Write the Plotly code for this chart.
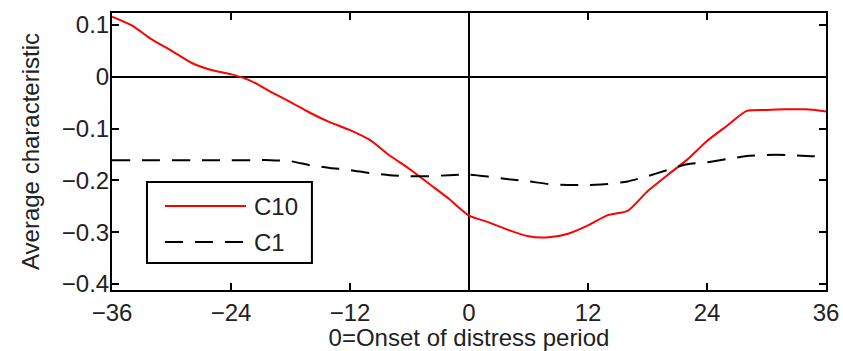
import plotly.graph_objects as go

# Months relative to the onset of the distress period
months = [-36, -34, -32, -30, -28, -26, -24, -22, -20, -18, -16, -14, -12,
          -10, -8, -6, -4, -2, 0, 2, 4, 6, 8, 10, 12, 14, 16, 18, 20, 22,
          24, 26, 28, 30, 32, 34, 36]

# Average characteristic, top decile portfolio
c10 = [0.116, 0.099, 0.072, 0.050, 0.027, 0.013, 0.005, -0.008, -0.029,
       -0.049, -0.070, -0.088, -0.103, -0.122, -0.152, -0.178, -0.207,
       -0.236, -0.268, -0.281, -0.296, -0.308, -0.310, -0.303, -0.287,
       -0.267, -0.259, -0.221, -0.190, -0.160, -0.124, -0.095, -0.066,
       -0.064, -0.063, -0.063, -0.067]

# Average characteristic, bottom decile portfolio
c1 = [-0.161, -0.161, -0.161, -0.161, -0.161, -0.161, -0.161, -0.161,
      -0.161, -0.163, -0.171, -0.176, -0.180, -0.186, -0.190, -0.192,
      -0.192, -0.190, -0.189, -0.193, -0.198, -0.202, -0.207, -0.209,
      -0.209, -0.207, -0.202, -0.192, -0.180, -0.169, -0.165, -0.159,
      -0.153, -0.151, -0.151, -0.153, -0.154]

x_ticks = [-36, -24, -12, 0, 12, 24, 36]
y_ticks = [-0.4, -0.3, -0.2, -0.1, 0, 0.1]

series_names = ["C10", "C1"]
series_colors = ["#ff0000", "#000000"]
series_dash = ["solid", "18px,12px"]

FONT = "Liberation Sans, Arial, sans-serif"
TXT = "#222"
FS = 24

fig = go.Figure()
for name, vals, col, dash in zip(series_names, [c10, c1], series_colors, series_dash):
    fig.add_trace(go.Scatter(x=months, y=vals, mode="lines", name=name,
                             line=dict(color=col, width=2, dash=dash, shape="spline",
                                       smoothing=0.6),
                             showlegend=False))

axis_common = dict(showline=True, linecolor="black", linewidth=2, mirror="allticks",
                   ticks="inside", ticklen=7, tickwidth=2, tickcolor="black",
                   showgrid=False, zeroline=True, zerolinecolor="black",
                   zerolinewidth=2, automargin=False,
                   tickfont=dict(family=FONT, size=FS, color=TXT))

fig.update_xaxes(range=[-36, 36], tickvals=x_ticks, **axis_common,
                 title=dict(text="0=Onset of distress period",
                            font=dict(family=FONT, size=FS, color=TXT),
                            standoff=11))
fig.update_yaxes(range=[-0.4116, 0.123], tickvals=y_ticks, **axis_common,
                 ticklabelstandoff=-4,
                 title=dict(text="Average characteristic",
                            font=dict(family=FONT, size=FS, color=TXT),
                            standoff=15))

# Legend box drawn in paper coordinates
lx0, lx1, ly0, ly1 = 0.049, 0.280, 0.0975, 0.39
fig.add_shape(type="rect", xref="paper", yref="paper", x0=lx0, x1=lx1, y0=ly0, y1=ly1,
              line=dict(color="black", width=2), fillcolor="white", layer="above")
for name, col, dash, yy in zip(series_names, series_colors, series_dash, [0.303, 0.173]):
    fig.add_shape(type="line", xref="paper", yref="paper", x0=0.0742, x1=0.1877,
                  y0=yy, y1=yy, line=dict(color=col, width=2, dash=dash), layer="above")
    fig.add_annotation(xref="paper", yref="paper", x=0.196, y=yy, text=name,
                       showarrow=False, xanchor="left", yanchor="middle",
                       font=dict(family=FONT, size=FS, color=TXT))

fig.update_layout(width=843, height=351, margin=dict(l=112, r=17, t=13, b=61),
                  plot_bgcolor="white", paper_bgcolor="white", showlegend=False)

fig.write_html("out.html")
